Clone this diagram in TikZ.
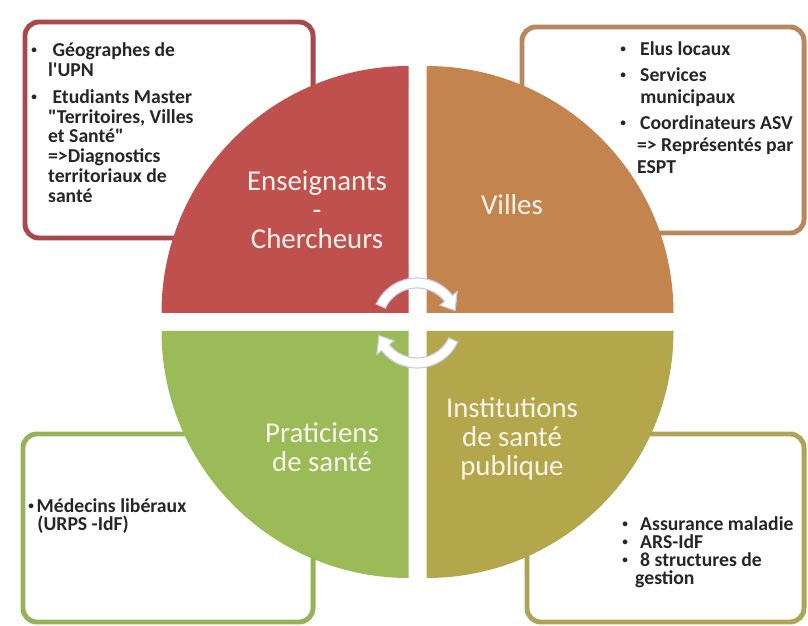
\documentclass[tikz,border=0pt]{standalone}
\usepackage{fontspec}
\setmainfont{Carlito}
\usepackage{tikz}

\definecolor{chercheurred}{HTML}{C0504D}
\definecolor{chercheurline}{HTML}{A9484B}
\definecolor{villeorange}{HTML}{C4844E}
\definecolor{villeline}{HTML}{B8875E}
\definecolor{praticiengreen}{HTML}{9BBB59}
\definecolor{praticienline}{HTML}{98B25A}
\definecolor{institutionolive}{HTML}{B4A64A}
\definecolor{institutionline}{HTML}{ADA457}
\definecolor{labelwhite}{HTML}{F8F4EC}
\definecolor{arrowline}{HTML}{C6CCE8}

\newcommand{\bul}[1]{\makebox[#1][l]{\raisebox{2pt}{\fontsize{8}{8}\selectfont\textbullet}}}
\newcommand{\boxfont}[1]{\bfseries\fontsize{14}{#1}\selectfont}

\begin{document}
\begin{tikzpicture}[x=0.025cm, y=0.025cm,
    partbox/.style={draw, line width=3.5pt, rounded corners=0.35cm, fill=white, inner sep=0pt},
    parttext/.style={anchor=north west, inner sep=0pt, align=left, text=black!85},
    partlabel/.style={align=center, inner sep=0pt, text=labelwhite, font=\fontsize{20.5}{20.5}\selectfont},
    cyclearrow/.style={fill=white, draw=arrowline, line width=0.8pt}]

    \useasboundingbox (0,0) rectangle (808,625);

    % the four boxes behind the circle
    \node[partbox, draw=chercheurline, minimum width=7.2cm, minimum height=5.4cm] (boxchercheurs) at (169,495) {};
    \node[partbox, draw=villeline, minimum width=7.05cm, minimum height=5.15cm] (boxvilles) at (663,495) {};
    \node[partbox, draw=praticienline, minimum width=7.25cm, minimum height=4.7cm] (boxpraticiens) at (168,97) {};
    \node[partbox, draw=institutionline, minimum width=6.925cm, minimum height=4.7cm] (boxinstitutions) at (665.5,97) {};

    % the circle, in four quarters
    \fill[chercheurred] (408.5,312) -- (408.5,559) arc[start angle=90, end angle=180, radius=247] -- cycle;
    \fill[villeorange] (426.5,312) -- (426.5,559) arc[start angle=90, end angle=0, radius=247] -- cycle;
    \fill[praticiengreen] (408.5,294) -- (408.5,47) arc[start angle=270, end angle=180, radius=247] -- cycle;
    \fill[institutionolive] (426.5,294) -- (426.5,47) arc[start angle=270, end angle=360, radius=247] -- cycle;

    \node[partlabel] (chercheurs) at (317,415) {Enseignants\\-\\Chercheurs};
    \node[partlabel] (villes) at (512,420) {Villes};
    \node[partlabel] (praticiens) at (322,178) {Praticiens\\de santé};
    \node[partlabel] (institutions) at (512,186) {Institutions\\de santé\\publique};

    % cycle in the middle
    \begin{scope}[shift={(417,302)}]
        \draw[cyclearrow] (155:45) arc[start angle=155, end angle=38, radius=45] -- (38:51)
            -- (18:40) -- (38:29) -- (38:35) arc[start angle=38, end angle=155, radius=35] -- cycle;
        \draw[cyclearrow] (-25:45) arc[start angle=-25, end angle=-142, radius=45] -- (-142:51)
            -- (-162:40) -- (-142:29) -- (-142:35) arc[start angle=-142, end angle=-25, radius=35] -- cycle;
    \end{scope}

    % texts of the boxes
    \node[parttext, font=\boxfont{14.2}] (textchercheurs) at (31,583) {%
        \bul{12pt}\ Géographes de\\
        \hspace*{12pt}l\textquotesingle UPN\\[5pt]
        \bul{12pt}\ Etudiants Master\\
        \hspace*{12pt}\textquotedbl Territoires, Villes\\
        \hspace*{12pt}et Santé\textquotedbl\\
        \hspace*{12pt}=>Diagnostics\\
        \hspace*{12pt}territoriaux de\\
        \hspace*{12pt}santé};

    \node[parttext, font=\boxfont{15.6}] (textvilles) at (620,584) {%
        \bul{11pt}\ Elus locaux\\[3pt]
        \bul{11pt}\ Services\\
        \hspace*{14.2pt}municipaux\\[3pt]
        \bul{11pt}\ Coordinateurs ASV\\
        \hspace*{12pt}=> Représentés par\\
        \hspace*{12pt}ESPT};

    \node[parttext, font=\boxfont{12.8}] (textpraticiens) at (28,127) {%
        \bul{6pt}Médecins libéraux\\
        \hspace*{6.5pt}(URPS -IdF)};

    \node[parttext, font=\boxfont{12.8}] (textinstitutions) at (622,109) {%
        \bul{9.6pt}\ Assurance maladie\\
        \bul{9.6pt}\ ARS-IdF\\
        \bul{9.6pt}\ 8 structures de\\
        \hspace*{9.2pt}gestion};

\end{tikzpicture}
\end{document}
